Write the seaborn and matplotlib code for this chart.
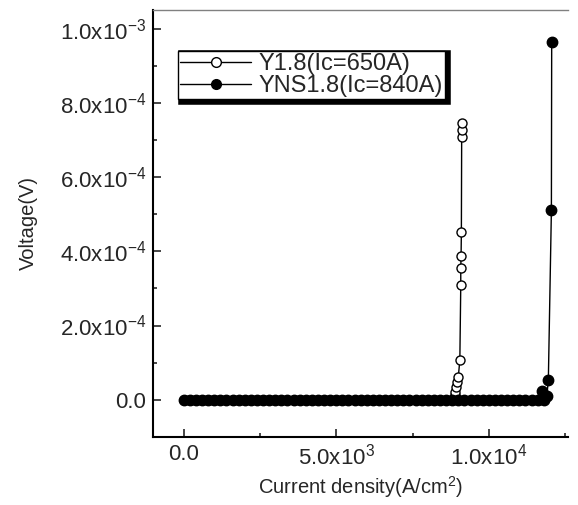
import numpy as np
import pandas as pd
import matplotlib
matplotlib.use('Agg')
import matplotlib.pyplot as plt
import seaborn as sns
from matplotlib.ticker import FuncFormatter, MultipleLocator

sns.set_style('ticks')
plt.rcParams['font.family'] = ['Liberation Sans', 'DejaVu Sans']
plt.rcParams['mathtext.default'] = 'regular'

# Y1.8 sample, current density (A/cm2) and voltage (V)
flat_j_y18 = [0, 200, 400, 600, 800, 1000, 1200, 1400, 1600, 1800, 2000, 2200, 2400,
              2600, 2800, 3000, 3200, 3400, 3600, 3800, 4000, 4200, 4400, 4600, 4800,
              5000, 5200, 5400, 5600, 5800, 6000, 6200, 6400, 6600, 6800, 7000, 7200,
              7400, 7600, 7800, 8000, 8200, 8400, 8600, 8800]
rise_j_y18 = [8850, 8880, 8900, 8920, 8950, 9000, 9050, 9080, 9080, 9090, 9100,
              9110, 9110, 9110]
rise_v_y18 = [0.5e-5, 1.2e-5, 2.2e-5, 3.5e-5, 4.9e-5, 6.2e-5, 1.07e-4, 3.08e-4,
              3.54e-4, 3.86e-4, 4.51e-4, 7.08e-4, 7.27e-4, 7.45e-4]

# YNS1.8 sample
flat_j_yns = [0, 200, 400, 600, 800, 1000, 1200, 1400, 1600, 1800, 2000, 2200, 2400,
              2600, 2800, 3000, 3200, 3400, 3600, 3800, 4000, 4200, 4400, 4600, 4800,
              5000, 5200, 5400, 5600, 5800, 6000, 6200, 6400, 6600, 6800, 7000, 7200,
              7400, 7600, 7800, 8000, 8200, 8400, 8600, 8800, 9000, 9200, 9400, 9600,
              9800, 10000, 10200, 10400, 10600, 10800, 11000, 11200, 11400, 11600, 11800]
rise_j_yns = [11750, 11900, 11950, 12050, 12060]
rise_v_yns = [2.4e-5, 1.0e-5, 5.2e-5, 5.1e-4, 9.65e-4]

y18 = pd.DataFrame({'J': flat_j_y18 + rise_j_y18,
                    'V': [0.0] * len(flat_j_y18) + rise_v_y18})
yns = pd.DataFrame({'J': flat_j_yns + rise_j_yns,
                    'V': [0.0] * len(flat_j_yns) + rise_v_yns})

fig = plt.figure(figsize=(5.78, 5.05), dpi=100)
ax = fig.add_axes([0.265, 0.135, 0.718, 0.845])

sns.lineplot(data=y18, x='J', y='V', sort=False, estimator=None, ax=ax,
             color='black', lw=1, marker='o', label='Y1.8(Ic=650A)')
sns.lineplot(data=yns, x='J', y='V', sort=False, estimator=None, ax=ax,
             color='black', lw=1, marker='o', label='YNS1.8(Ic=840A)')

open_line, filled_line = ax.lines[0], ax.lines[1]
open_line.set_markersize(6.5)
open_line.set_markerfacecolor('white')
open_line.set_markeredgecolor('black')
open_line.set_markeredgewidth(1.0)
filled_line.set_markersize(7.5)
filled_line.set_markerfacecolor('black')
filled_line.set_markeredgecolor('black')
filled_line.set_markeredgewidth(1.0)

ax.set_xlim(-1000, 12600)
ax.set_ylim(-1.0e-4, 1.05e-3)


def sci(v, pos):
    if abs(v) < 1e-12:
        return '0.0'
    e = int(np.floor(np.log10(abs(v)) + 1e-9))
    m = v / 10 ** e
    return f'{m:.1f}x10$^{{{e}}}$'


ax.xaxis.set_major_locator(MultipleLocator(5000))
ax.xaxis.set_minor_locator(MultipleLocator(2500))
ax.yaxis.set_major_locator(MultipleLocator(2e-4))
ax.yaxis.set_minor_locator(MultipleLocator(1e-4))
ax.xaxis.set_major_formatter(FuncFormatter(sci))
ax.yaxis.set_major_formatter(FuncFormatter(sci))

ax.tick_params(which='both', direction='in', width=1.2, labelsize=16, pad=5)
ax.tick_params(which='major', length=6)
ax.tick_params(which='minor', length=3)

ax.spines['right'].set_visible(False)
ax.spines['top'].set_linewidth(1.0)
ax.spines['top'].set_color('#808080')
for s in ['left', 'bottom']:
    ax.spines[s].set_linewidth(1.5)
    ax.spines[s].set_color('black')

ax.set_xlabel('Current density(A/cm$^2$)', fontsize=14.5, labelpad=3)
ax.set_ylabel('Voltage(V)', fontsize=14.5, labelpad=16)

handles, labels = ax.get_legend_handles_labels()
leg = ax.legend(handles, labels, loc='upper left', bbox_to_anchor=(0.06, 0.905),
                fontsize=17, frameon=True, fancybox=False, edgecolor='black',
                framealpha=1, shadow={'color': 'black', 'alpha': 1, 'linewidth': 4},
                handlelength=3.0, borderpad=0.1, labelspacing=0.0,
                handletextpad=0.3, borderaxespad=0)
leg.get_frame().set_linewidth(1)
for h in leg.legend_handles:
    h.set_markersize(7)
    h.set_markeredgecolor('black')
leg.legend_handles[0].set_markerfacecolor('white')
leg.legend_handles[1].set_markerfacecolor('black')

fig.savefig('out.png', dpi=100)
